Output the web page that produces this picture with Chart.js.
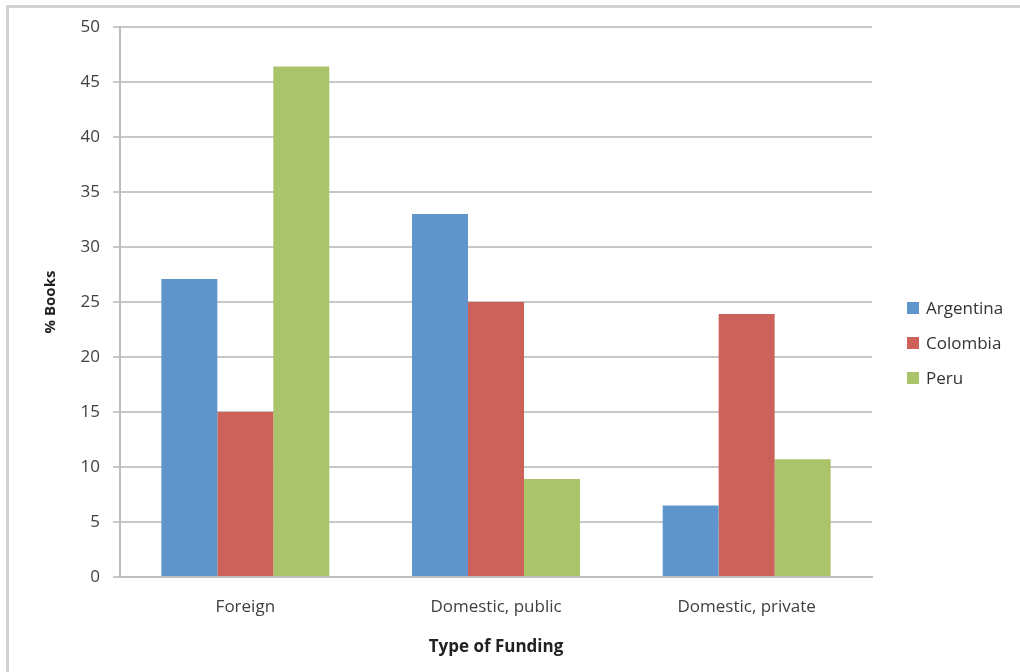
<!DOCTYPE html>
<html>
<head>
<meta charset="utf-8">
<script src="https://cdn.jsdelivr.net/npm/chart.js@4.4.1/dist/chart.umd.min.js"></script>
<style>
  html, body { margin: 0; padding: 0; background: #fff; }
  #wrap { position: relative; width: 1020px; height: 672px; overflow: hidden; }
  #frame { position: absolute; left: 6px; top: 5px; width: 1100px; height: 800px; border: 3px solid #d2d2d2; box-sizing: border-box; pointer-events: none; }
  canvas { position: absolute; left: 0; top: 0; }
</style>
</head>
<body>
<div id="wrap">
  <canvas id="c" width="1020" height="672"></canvas>
  <div id="frame"></div>
</div>
<script>
const categories = ["Foreign", "Domestic, public", "Domestic, private"];
const argentina = [27.1, 33.0, 6.5];
const colombia = [15.0, 25.0, 23.9];
const peru = [46.4, 8.9, 10.7];
const yTicks = [0, 5, 10, 15, 20, 25, 30, 35, 40, 45, 50];

const fontFam = "'Open Sans', 'DejaVu Sans', sans-serif";
const PAD_L = 30, PAD_T = 27, PAD_R = 148, PAD_B = 10;

const sideLegend = {
  id: 'sideLegend',
  afterDraw(chart) {
    const ctx = chart.ctx;
    const a = chart.chartArea;
    const x0 = a.right + 35;
    const yMid = 343;
    const step = 35;
    const n = chart.data.datasets.length;
    ctx.save();
    ctx.font = "17px " + fontFam;
    ctx.textBaseline = 'middle';
    ctx.textAlign = 'left';
    chart.data.datasets.forEach((ds, i) => {
      const y = yMid + (i - (n - 1) / 2) * step;
      ctx.fillStyle = ds.backgroundColor;
      ctx.fillRect(x0, y - 6, 12, 12);
      ctx.fillStyle = '#333';
      ctx.fillText(ds.label, x0 + 19, y + 1);
    });
    ctx.restore();
  }
};

new Chart(document.getElementById('c'), {
  type: 'bar',
  data: {
    labels: categories,
    datasets: [
      { label: 'Argentina', data: argentina, backgroundColor: '#6095cb' },
      { label: 'Colombia', data: colombia, backgroundColor: '#cc625a' },
      { label: 'Peru', data: peru, backgroundColor: '#aac46c' }
    ]
  },
  plugins: [sideLegend],
  options: {
    responsive: false,
    animation: false,
    devicePixelRatio: 1,
    layout: { padding: { left: PAD_L, top: PAD_T, right: PAD_R, bottom: PAD_B } },
    datasets: { bar: { categoryPercentage: 0.67, barPercentage: 1.0 } },
    plugins: {
      tooltip: { enabled: false },
      legend: { display: false }
    },
    scales: {
      x: {
        afterFit: (s) => { s.height = 672 - 577 - PAD_B; },
        grid: { display: false, drawTicks: false },
        border: { display: true, color: '#bdbdbd', width: 2 },
        ticks: { color: '#404040', font: { family: fontFam, size: 17 }, padding: 20 },
        title: { display: true, text: 'Type of Funding', color: '#222', font: { family: fontFam, size: 17, weight: 'bold' }, padding: 5 }
      },
      y: {
        min: 0, max: 50,
        afterFit: (s) => { s.width = 120 - PAD_L; },
        afterBuildTicks: (s) => { s.ticks = yTicks.map(v => ({ value: v })); },
        grid: { color: '#c8c8c8', lineWidth: 2, tickLength: 7, drawTicks: true },
        border: { display: true, color: '#bdbdbd', width: 2 },
        ticks: { color: '#404040', font: { family: fontFam, size: 17 }, padding: 13 },
        title: { display: true, text: '% Books', color: '#222', font: { family: fontFam, size: 15, weight: 'bold' }, padding: 12 }
      }
    }
  }
});
</script>
</body>
</html>
